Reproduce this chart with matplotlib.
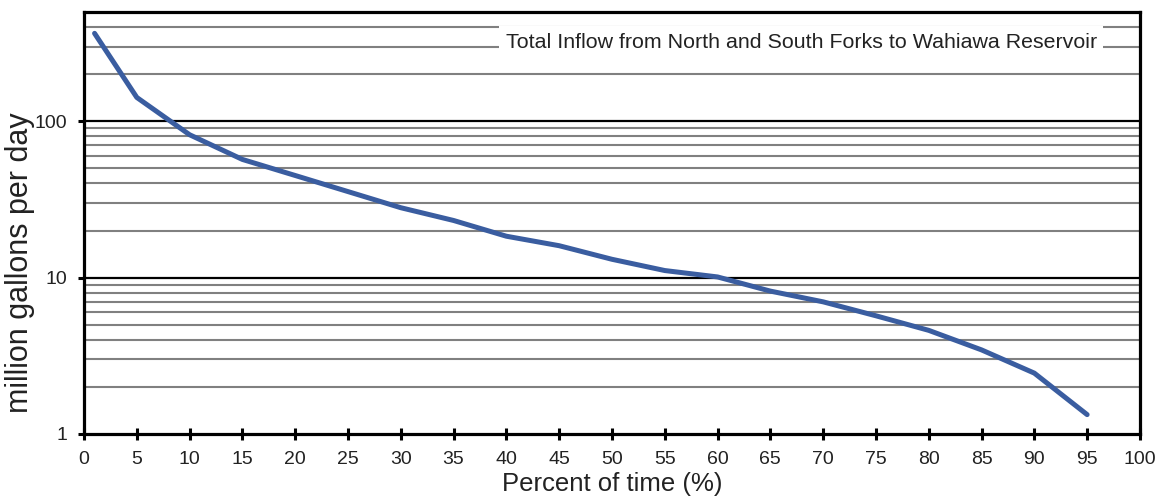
import matplotlib
matplotlib.use("Agg")
import matplotlib.pyplot as plt
from matplotlib.ticker import FixedLocator, NullFormatter, NullLocator

plt.rcParams['font.family'] = ['Liberation Sans', 'DejaVu Sans']

percent_time = [1, 5, 10, 15, 20, 25, 30, 35, 40, 45, 50, 55, 60, 65, 70, 75, 80, 85, 90, 95]
flow_mgd = [365, 142, 82, 57, 45, 35.5, 28, 23.2, 18.4, 16, 13.1, 11.1, 10.1, 8.2, 7.0, 5.7, 4.6, 3.45, 2.45, 1.33]

x_ticks = list(range(0, 101, 5))
y_major = [1, 10, 100]
y_minor = [2, 3, 4, 5, 6, 7, 8, 9, 20, 30, 40, 50, 60, 70, 80, 90, 200, 300, 400]
title_text = "Total Inflow from North and South Forks to Wahiawa Reservoir"

fig = plt.figure(figsize=(11.62, 4.99), dpi=100)
ax = fig.add_axes([0.0723, 0.1303, 0.9087, 0.8457])
ax.set_yscale('log')
ax.set_xlim(0, 100)
ax.set_ylim(1, 500)

for v in y_minor:
    ax.axhline(v, color='#808080', lw=1.5, zorder=1)
for v in y_major[1:]:
    ax.axhline(v, color='black', lw=1.6, zorder=1.5)

ax.plot(percent_time, flow_mgd, color='#3A5DA0', lw=3.6, solid_capstyle='round',
        solid_joinstyle='round', zorder=3)

ax.set_xticks(x_ticks)
ax.set_xticklabels([str(t) for t in x_ticks])
ax.yaxis.set_major_locator(FixedLocator(y_major))
ax.set_yticklabels([str(v) for v in y_major])
ax.yaxis.set_minor_locator(NullLocator())
ax.yaxis.set_minor_formatter(NullFormatter())

ax.tick_params(axis='x', direction='inout', length=9, width=2.2, labelsize=14, pad=8,
               colors='black', labelcolor='#222222')
ax.tick_params(axis='y', direction='out', length=4, width=2.2, labelsize=14, pad=8,
               labelcolor='#222222')
for s in ax.spines.values():
    s.set_linewidth(2.3)
    s.set_color('black')

ax.set_xlabel("Percent of time (%)", fontsize=18.5, color='#222222')
ax.xaxis.set_label_coords(0.5, -0.090)
ax.set_ylabel("million gallons per day", fontsize=22, color='#222222')
ax.yaxis.set_label_coords(-0.0464, 0.405)

ax.text(0.959, 0.9147, title_text, transform=ax.transAxes, ha='right', va='baseline',
        fontsize=15.4, color='#222222', zorder=4,
        bbox=dict(facecolor='white', edgecolor='none', pad=5))

fig.savefig("out.png", dpi=100)
